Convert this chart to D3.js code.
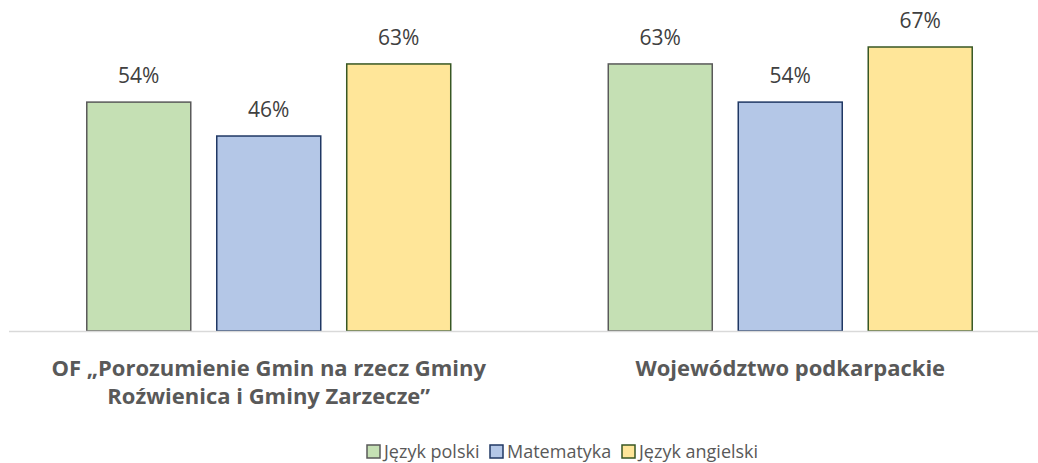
<!DOCTYPE html>
<html>
<head>
    <meta charset="utf-8" />
    <title>Wyniki</title>
    <script src="https://d3js.org/d3.v7.min.js"></script>
    <style>
        body { margin: 0; background: #fff; }
        text { font-family: "Open Sans", "Noto Sans", sans-serif; }
    </style>
</head>
<body>
    <svg width="1038" height="463"></svg>
    <script>
        var categories = [
            ["OF \u201ePorozumienie Gmin na rzecz Gminy", "Roźwienica i Gminy Zarzecze\u201d"],
            ["Województwo podkarpackie"]
        ];
        var seriesNames = ["Język polski", "Matematyka", "Język angielski"];
        var polski = [54, 63];
        var matematyka = [46, 54];
        var angielski = [63, 67];

        var fills = ["#c5e0b4", "#b4c7e7", "#ffe699"];
        var strokes = ["#595959", "#203864", "#385723"];

        var svg = d3.select("svg");
        var baseY = 331;

        var x0 = d3.scaleBand()
            .domain(d3.range(categories.length))
            .range([8, 1051]);

        var x1 = d3.scaleBand()
            .domain(d3.range(seriesNames.length))
            .range([0, x0.bandwidth()])
            .paddingInner(0.2)
            .paddingOuter(0.606);

        var y = d3.scaleLinear().domain([0, 67]).range([baseY, 47]);

        var series = [polski, matematyka, angielski];
        var rows = [];
        series.forEach(function (vals, s) {
            vals.forEach(function (v, c) {
                rows.push({ s: s, c: c, v: v });
            });
        });

        var g = svg.append("g");

        g.selectAll("rect.bar")
            .data(rows)
            .enter().append("rect")
            .attr("class", "bar")
            .attr("x", function (d) { return x0(d.c) + x1(d.s); })
            .attr("y", function (d) { return y(d.v); })
            .attr("width", x1.bandwidth())
            .attr("height", function (d) { return baseY - y(d.v); })
            .attr("fill", function (d) { return fills[d.s]; })
            .attr("stroke", function (d) { return strokes[d.s]; })
            .attr("stroke-width", 1.5);

        g.selectAll("text.val")
            .data(rows)
            .enter().append("text")
            .attr("class", "val")
            .attr("x", function (d) { return x0(d.c) + x1(d.s) + x1.bandwidth() / 2; })
            .attr("y", function (d) { return y(d.v) - 19; })
            .attr("text-anchor", "middle")
            .attr("fill", "#404040")
            .style("font-size", "21px")
            .text(function (d) { return d.v + "%"; });

        // x axis line
        svg.append("line")
            .attr("x1", 9).attr("x2", 1038)
            .attr("y1", baseY + 0.5).attr("y2", baseY + 0.5)
            .attr("stroke", "#d9d9d9")
            .attr("stroke-width", 1.5);

        // category labels
        categories.forEach(function (lines, c) {
            var t = svg.append("text")
                .attr("x", x0(c) + x0.bandwidth() / 2)
                .attr("y", 376)
                .attr("text-anchor", "middle")
                .attr("fill", "#595959")
                .style("font-size", "22px")
                .style("font-weight", "bold");
            lines.forEach(function (l, i) {
                t.append("tspan")
                    .attr("x", x0(c) + x0.bandwidth() / 2)
                    .attr("dy", i === 0 ? 0 : 28)
                    .text(l);
            });
        });

        // legend
        var legendX = [367, 490, 622];
        var legend = svg.selectAll("g.leg")
            .data(seriesNames)
            .enter().append("g")
            .attr("class", "leg")
            .attr("transform", function (d, i) { return "translate(" + legendX[i] + ",445)"; });

        legend.append("rect")
            .attr("width", 13).attr("height", 13)
            .attr("fill", function (d, i) { return fills[i]; })
            .attr("stroke", function (d, i) { return strokes[i]; })
            .attr("stroke-width", 1.5);

        legend.append("text")
            .attr("x", 17)
            .attr("y", 13)
            .attr("fill", "#595959")
            .style("font-size", "18px")
            .text(function (d) { return d; });
    </script>
</body>
</html>
